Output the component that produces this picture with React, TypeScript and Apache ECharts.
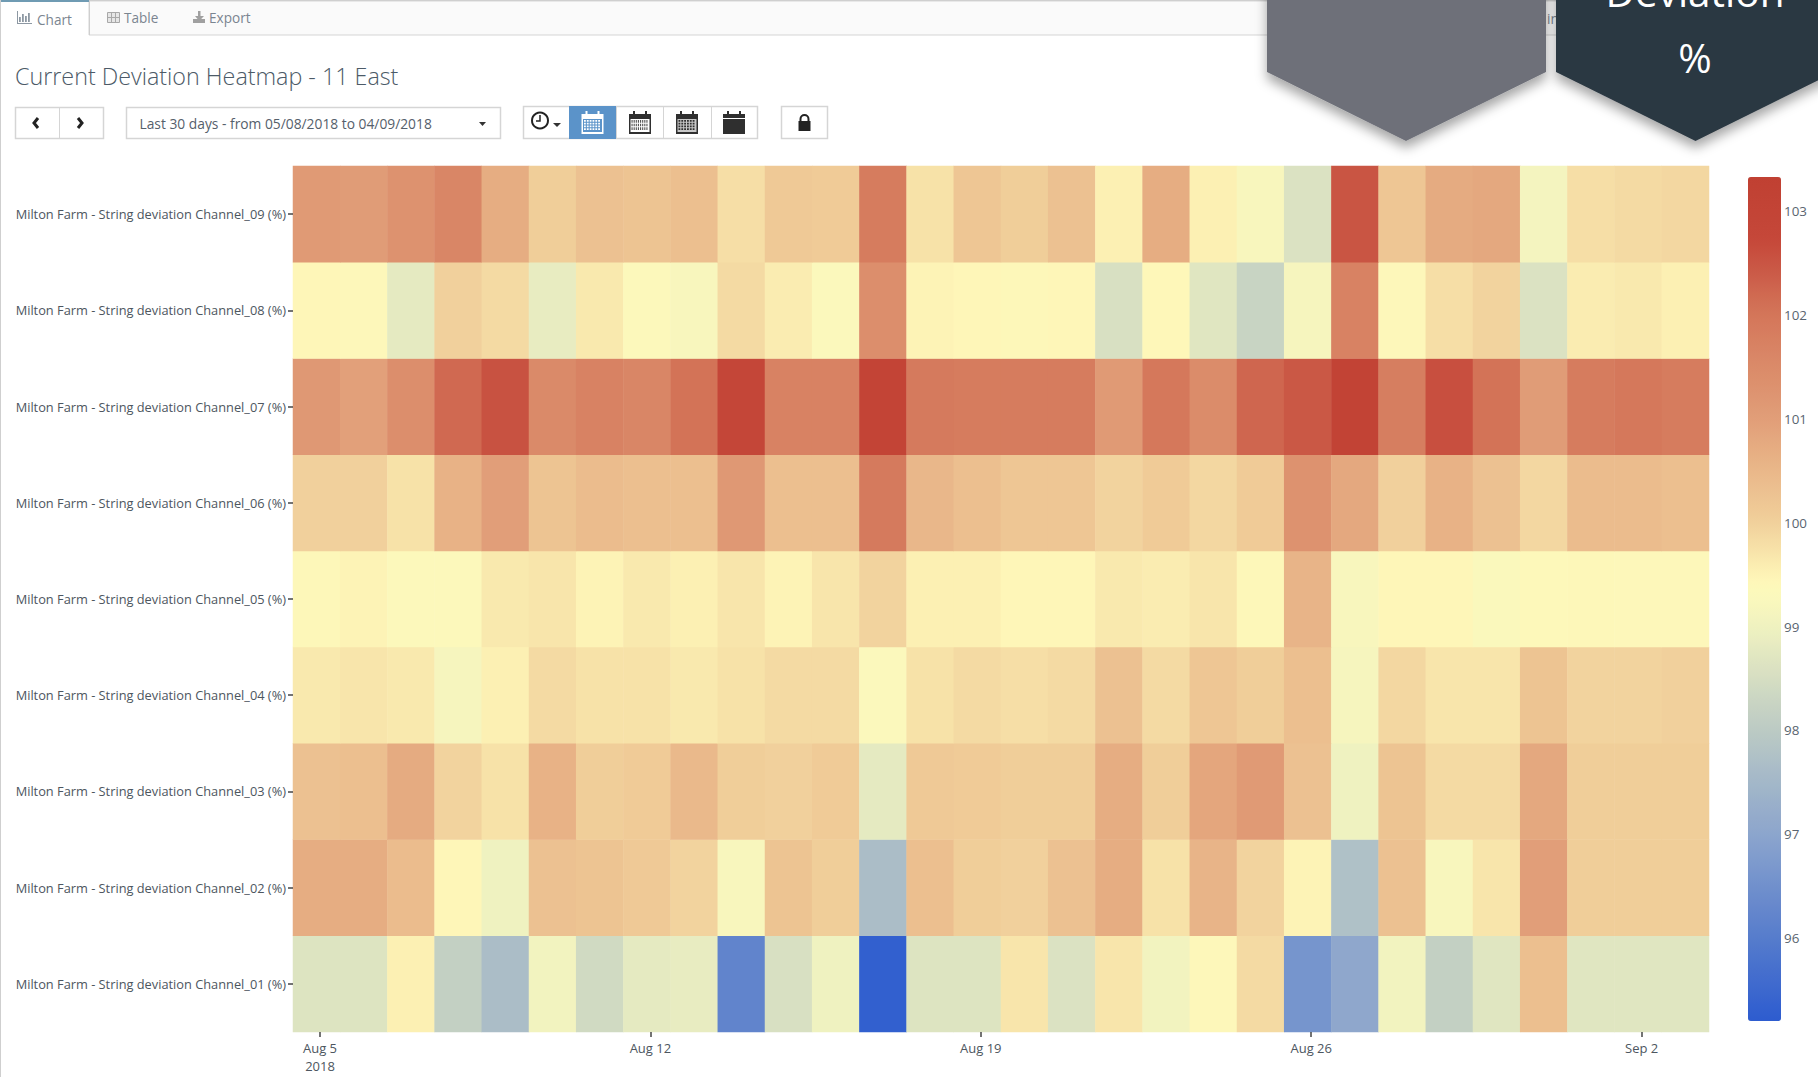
import React, { useEffect, useRef } from "react";
import * as echarts from "echarts";

const FONT = '"Open Sans", sans-serif';

const rowLabels = [
  "Milton Farm - String deviation Channel_01 (%)",
  "Milton Farm - String deviation Channel_02 (%)",
  "Milton Farm - String deviation Channel_03 (%)",
  "Milton Farm - String deviation Channel_04 (%)",
  "Milton Farm - String deviation Channel_05 (%)",
  "Milton Farm - String deviation Channel_06 (%)",
  "Milton Farm - String deviation Channel_07 (%)",
  "Milton Farm - String deviation Channel_08 (%)",
  "Milton Farm - String deviation Channel_09 (%)",
];

const days = [
  "Aug 5", "Aug 6", "Aug 7", "Aug 8", "Aug 9", "Aug 10", "Aug 11", "Aug 12", "Aug 13", "Aug 14",
  "Aug 15", "Aug 16", "Aug 17", "Aug 18", "Aug 19", "Aug 20", "Aug 21", "Aug 22", "Aug 23", "Aug 24",
  "Aug 25", "Aug 26", "Aug 27", "Aug 28", "Aug 29", "Aug 30", "Aug 31", "Sep 1", "Sep 2", "Sep 3",
];

const channel01 = [98.65, 98.65, 99.55, 98.15, 97.65, 99.05, 98.4, 98.8, 98.85, 96.2, 98.55, 99.0, 95.3, 98.65, 98.65, 99.7, 98.6, 99.7, 99.05, 99.4, 99.85, 96.6, 97.05, 99.05, 98.15, 98.7, 100.35, 98.7, 98.7, 98.7];
const channel02 = [100.7, 100.7, 100.4, 99.45, 99.0, 100.3, 100.25, 100.15, 99.95, 99.2, 100.25, 100.05, 97.65, 100.35, 100.05, 100.0, 100.3, 100.7, 99.75, 100.55, 99.95, 99.5, 97.75, 100.3, 99.2, 99.7, 101.0, 100.05, 100.05, 100.05];
const channel03 = [100.3, 100.35, 100.75, 99.95, 99.75, 100.6, 100.05, 100.1, 100.45, 100.05, 100.0, 100.1, 98.8, 100.15, 100.1, 100.05, 100.05, 100.7, 100.05, 100.85, 101.1, 100.3, 99.0, 100.25, 99.85, 99.85, 100.8, 100.05, 100.05, 100.05];
const channel04 = [99.65, 99.7, 99.65, 99.15, 99.55, 99.85, 99.75, 99.75, 99.65, 99.75, 99.85, 99.85, 99.3, 99.75, 99.85, 99.8, 99.85, 100.3, 99.85, 100.2, 100.05, 100.35, 99.15, 99.9, 99.7, 99.7, 100.25, 99.95, 99.95, 100.0];
const channel05 = [99.42, 99.5, 99.35, 99.35, 99.65, 99.7, 99.5, 99.65, 99.55, 99.7, 99.5, 99.7, 99.95, 99.55, 99.55, 99.45, 99.45, 99.65, 99.6, 99.7, 99.42, 100.55, 99.2, 99.45, 99.45, 99.28, 99.38, 99.42, 99.4, 99.4];
const channel06 = [100.0, 100.0, 99.75, 100.6, 101.0, 100.25, 100.4, 100.35, 100.35, 101.15, 100.35, 100.35, 101.9, 100.5, 100.35, 100.2, 100.2, 99.95, 100.1, 99.9, 100.1, 101.3, 100.8, 100.0, 100.6, 100.3, 99.9, 100.4, 100.4, 100.35];
const channel07 = [101.15, 100.95, 101.4, 102.2, 102.55, 101.5, 101.7, 101.6, 102.05, 102.85, 101.7, 101.7, 103.0, 101.9, 101.85, 101.85, 101.85, 101.1, 101.95, 101.45, 102.25, 102.45, 103.1, 101.8, 102.6, 102.05, 101.05, 101.85, 101.95, 101.85];
const channel08 = [99.45, 99.4, 98.8, 100.0, 99.85, 98.85, 99.65, 99.35, 99.2, 99.85, 99.6, 99.3, 101.4, 99.5, 99.45, 99.42, 99.45, 98.55, 99.43, 98.7, 98.25, 99.15, 101.7, 99.4, 99.8, 99.95, 98.6, 99.6, 99.65, 99.55];
const channel09 = [101.1, 101.05, 101.3, 101.6, 100.7, 100.05, 100.3, 100.25, 100.35, 99.8, 100.15, 100.1, 101.85, 99.75, 100.2, 100.05, 100.3, 99.55, 100.7, 99.55, 99.2, 98.6, 102.5, 100.2, 100.75, 100.8, 99.1, 99.8, 99.85, 99.9];
const channels = [channel01, channel02, channel03, channel04, channel05, channel06, channel07, channel08, channel09];

const legendTicks = [96, 97, 98, 99, 100, 101, 102, 103];
const dateTickOffsets = [0, 7, 14, 21, 28];
const dateTickLabels = ["Aug 5\n2018", "Aug 12", "Aug 19", "Aug 26", "Sep 2"];

const scaleMin = 95.2;
const scaleMax = 103.33;
const colorStops: [number, number[]][] = [
  [95.2, [45, 92, 207]],
  [96, [86, 124, 204]],
  [97, [140, 165, 205]],
  [98, [187, 202, 196]],
  [99, [240, 242, 192]],
  [99.4, [255, 250, 187]],
  [100, [241, 208, 155]],
  [101, [225, 158, 120]],
  [102, [212, 118, 90]],
  [102.7, [197, 72, 58]],
  [103.33, [192, 64, 50]],
];

function paletteFromStops(n: number) {
  const out: string[] = [];
  for (let i = 0; i < n; i++) {
    const v = scaleMin + ((scaleMax - scaleMin) * i) / (n - 1);
    let k = 0;
    while (k < colorStops.length - 2 && v > colorStops[k + 1][0]) k++;
    const [a, ca] = colorStops[k];
    const [b, cb] = colorStops[k + 1];
    const t = (v - a) / (b - a);
    const c = ca.map((x, j) => Math.round(x + (cb[j] - x) * t));
    out.push(`rgb(${c[0]},${c[1]},${c[2]})`);
  }
  return out;
}

const BORDER = "#d5d5d5";
const txt = (x: number, y: number, text: string, fontSize: number, fill: string, extra: any = {}) => ({
  type: "text",
  x,
  y,
  style: { text, fontSize, fill, fontFamily: FONT, textAlign: "left", textVerticalAlign: "middle", ...extra },
});
const box = (x: number, y: number, width: number, height: number, fill: string, stroke?: string, lineWidth = 1) => ({
  type: "rect",
  shape: { x, y, width, height },
  style: { fill, stroke: stroke ?? "none", lineWidth },
});

function calendar(cx: number, cy: number, color: string, face: string, rows: number, cols: number, cellColor: string) {
  const w = 22;
  const h = 22;
  const x0 = cx - w / 2;
  const y0 = cy - h / 2;
  const els: any[] = [
    box(x0 + 4, y0 - 1, 2, 4, color),
    box(x0 + w - 6, y0 - 1, 2, 4, color),
    box(x0, y0 + 2, w, h - 2, color),
  ];
  if (rows > 0) {
    els.push(box(x0 + 1.5, y0 + 7, w - 3, h - 9, face));
    const cw = (w - 5) / cols;
    const ch = (h - 11) / rows;
    for (let r = 0; r < rows; r++) {
      for (let c = 0; c < cols; c++) {
        els.push(box(x0 + 2.5 + c * cw, y0 + 8 + r * ch, cw - 1, ch - 1, cellColor));
      }
    }
  } else {
    els.push(box(x0, y0 + 6, w, 1, "#ffffff"));
  }
  return els;
}

function chromeElements() {
  const els: any[] = [];
  // tab strip
  els.push(box(89, 1, 1729, 34, "#fafafa", BORDER));
  els.push(box(0, 0, 1818, 1, "#cfcfcf"));
  els.push(box(0, 0, 89, 2, "#6f9bb3"));
  els.push(box(0, 0, 1, 1077, "#cfcfcf"));
  els.push(box(89, 0, 1, 35, "#cfcfcf"));
  // tab icons and labels
  [[19, 5], [22, 8], [25, 6], [28, 9]].forEach(([x, h]) => {
    els.push(box(x, 22 - h, 1.8, h, "#8d98a3"));
  });
  els.push(box(17, 23, 15, 1, "#8d98a3"));
  els.push(box(17, 11, 1, 12, "#8d98a3"));
  els.push(txt(37, 19.5, "Chart", 13.6, "#7a8590"));
  els.push(box(107.5, 12.5, 12, 10, "#e6e6e6", "#a8a8a8"));
  els.push({ type: "line", shape: { x1: 111.5, y1: 12, x2: 111.5, y2: 22 }, style: { stroke: "#a8a8a8", lineWidth: 1 } });
  els.push({ type: "line", shape: { x1: 115.5, y1: 12, x2: 115.5, y2: 22 }, style: { stroke: "#a8a8a8", lineWidth: 1 } });
  els.push({ type: "line", shape: { x1: 107, y1: 17.5, x2: 119, y2: 17.5 }, style: { stroke: "#a8a8a8", lineWidth: 1 } });
  els.push(txt(124, 17.5, "Table", 13.6, "#7a8590"));
  els.push(box(193, 19, 12, 4, "#a0a0a0"));
  els.push(box(198, 11, 2.5, 6, "#a0a0a0"));
  els.push({ type: "polygon", shape: { points: [[195, 16], [204, 16], [199.3, 21]] }, style: { fill: "#a0a0a0" } });
  els.push(txt(209, 17.5, "Export", 13.6, "#7a8590"));
  els.push(txt(1547, 18, "in", 13.6, "#7a8590"));

  // navigation buttons
  els.push(box(15.5, 107.5, 88, 31, "#ffffff", BORDER, 1.5));
  els.push({ type: "line", shape: { x1: 59.5, y1: 108, x2: 59.5, y2: 138 }, style: { stroke: BORDER, lineWidth: 1 } });
  els.push({ type: "polyline", shape: { points: [[38, 118], [34, 123], [38, 128]] }, style: { stroke: "#222222", lineWidth: 3, fill: "none" } });
  els.push({ type: "polyline", shape: { points: [[78, 118], [82, 123], [78, 128]] }, style: { stroke: "#222222", lineWidth: 3, fill: "none" } });

  // range dropdown
  els.push(box(126.5, 107.5, 374, 31, "#ffffff", BORDER, 1.5));
  els.push(txt(139.5, 123, "Last 30 days - from 05/08/2018 to 04/09/2018", 13.8, "#55606b"));
  els.push({ type: "polygon", shape: { points: [[479, 122], [486, 122], [482.5, 126]] }, style: { fill: "#333333" } });

  // granularity group
  els.push(box(523.5, 106.5, 234, 32, "#ffffff", BORDER, 1.5));
  els.push(box(569, 106, 47, 33, "#5b93c9"));
  [616, 663, 711].forEach((x) => {
    els.push({ type: "line", shape: { x1: x + 0.5, y1: 107, x2: x + 0.5, y2: 138 }, style: { stroke: BORDER, lineWidth: 1 } });
  });
  els.push({ type: "circle", shape: { cx: 540, cy: 120.5, r: 8 }, style: { fill: "#ffffff", stroke: "#222222", lineWidth: 2 } });
  els.push({ type: "polyline", shape: { points: [[540, 115], [540, 121], [536, 121]] }, style: { stroke: "#222222", lineWidth: 1.5, fill: "none" } });
  els.push({ type: "polygon", shape: { points: [[553, 123], [561, 123], [557, 127]] }, style: { fill: "#333333" } });
  els.push(...calendar(592.5, 123, "#ffffff", "#5b93c9", 4, 6, "#ffffff"));
  els.push(...calendar(640, 123, "#2f2f2f", "#ffffff", 3, 8, "#555555"));
  els.push(...calendar(687, 123, "#2f2f2f", "#c8c8c8", 4, 6, "#2f2f2f"));
  els.push(...calendar(734, 123, "#2f2f2f", "", 0, 0, ""));

  // lock button
  els.push(box(781.5, 106.5, 46, 32, "#ffffff", BORDER, 1.5));
  els.push(box(798.5, 121, 12, 10, "#222222"));
  els.push({ type: "arc", shape: { cx: 804.5, cy: 119, r: 4, startAngle: Math.PI, endAngle: 0, clockwise: true }, style: { stroke: "#222222", lineWidth: 2, fill: "none" } });
  els.push(box(799.5, 119, 2, 3, "#222222"));
  els.push(box(807.5, 119, 2, 3, "#222222"));

  // hexagon badges
  const shadow = { shadowBlur: 12, shadowOffsetY: 7, shadowColor: "rgba(0,0,0,0.35)" };
  els.push({
    type: "polygon",
    shape: { points: [[1267, -30], [1546, -30], [1546, 72], [1406, 141], [1267, 72]] },
    style: { fill: "#6e7079", ...shadow },
  });
  els.push({
    type: "polygon",
    shape: { points: [[1556, -30], [1860, -30], [1835, 72], [1695.5, 141], [1556, 72]] },
    style: { fill: "#2c3842", ...shadow },
  });
  els.push(txt(1695, -9, "Deviation", 40.5, "#ffffff", { textAlign: "center" }));
  els.push(txt(1695, 57, "%", 40.5, "#ffffff", { textAlign: "center" }));
  return els;
}

const clearLine = { show: true, onZero: false, lineStyle: { color: "rgba(255,255,255,0)", width: 1 } };

export default function App() {
  const ref = useRef<HTMLDivElement>(null);
  useEffect(() => {
    const chart = echarts.init(ref.current!, undefined, { renderer: "svg" });
    const data: number[][] = [];
    channels.forEach((vals, y) => vals.forEach((v, x) => data.push([x, y, v])));
    chart.setOption({
      animation: false,
      backgroundColor: "#ffffff",
      textStyle: { fontFamily: FONT },
      title: {
        text: "Current Deviation Heatmap - 11 East",
        left: 15,
        top: 59,
        padding: 0,
        textStyle: { fontFamily: FONT, fontSize: 23.3, fontWeight: 300, color: "#4c5a67", lineHeight: 34 },
      },
      grid: [
        { left: 293, top: 166, width: 1416, height: 866, containLabel: false },
        { left: 1748, top: 177, width: 33, height: 844, containLabel: false },
      ],
      xAxis: [
        {
          type: "value",
          gridIndex: 0,
          position: "bottom",
          min: -0.572,
          max: 29.428,
          splitLine: { show: false },
          axisLine: clearLine,
          axisTick: { show: true, inside: false, length: 5, customValues: dateTickOffsets, lineStyle: { color: "#444444", width: 1.5, opacity: 1 } },
          axisLabel: {
            customValues: dateTickOffsets,
            formatter: (v: number) => dateTickLabels[dateTickOffsets.indexOf(v)] ?? "",
            fontFamily: FONT,
            fontSize: 13,
            lineHeight: 18,
            color: "#4d5660",
            margin: 7,
            verticalAlign: "top",
          },
          z: 20,
        },
        { type: "category", gridIndex: 0, position: "top", data: days, show: false },
        { type: "value", gridIndex: 1, show: false },
      ],
      yAxis: [
        {
          type: "category",
          gridIndex: 0,
          data: rowLabels,
          axisLine: clearLine,
          axisTick: { show: true, inside: false, interval: 0, alignWithLabel: true, length: 5, lineStyle: { color: "#444444", width: 1.5, opacity: 1 } },
          axisLabel: { fontFamily: FONT, fontSize: 12.8, color: "#4d5660", margin: 7 },
          z: 20,
        },
        {
          type: "value",
          gridIndex: 1,
          position: "right",
          min: scaleMin,
          max: scaleMax,
          splitLine: { show: false },
          axisLine: { show: false },
          axisTick: { show: false },
          axisLabel: { customValues: legendTicks, fontFamily: FONT, fontSize: 13.4, color: "#5a6570", margin: 3 },
        },
      ],
      visualMap: {
        type: "continuous",
        seriesIndex: 0,
        min: scaleMin,
        max: scaleMax,
        left: 1748,
        top: 177,
        itemWidth: 33,
        itemHeight: 844,
        calculable: false,
        text: ["", ""],
        showLabel: false,
        padding: 0,
        inRange: { color: paletteFromStops(66) },
      },
      series: [
        {
          type: "heatmap",
          xAxisIndex: 1,
          yAxisIndex: 0,
          data,
          progressive: 0,
          label: { show: false },
          itemStyle: { borderWidth: 0 },
          emphasis: { disabled: true },
        },
      ],
      graphic: { elements: chromeElements() },
    });
    return () => chart.dispose();
  }, []);
  return <div ref={ref} style={{ position: "fixed", left: 0, top: 0, width: 1818, height: 1077 }} />;
}
